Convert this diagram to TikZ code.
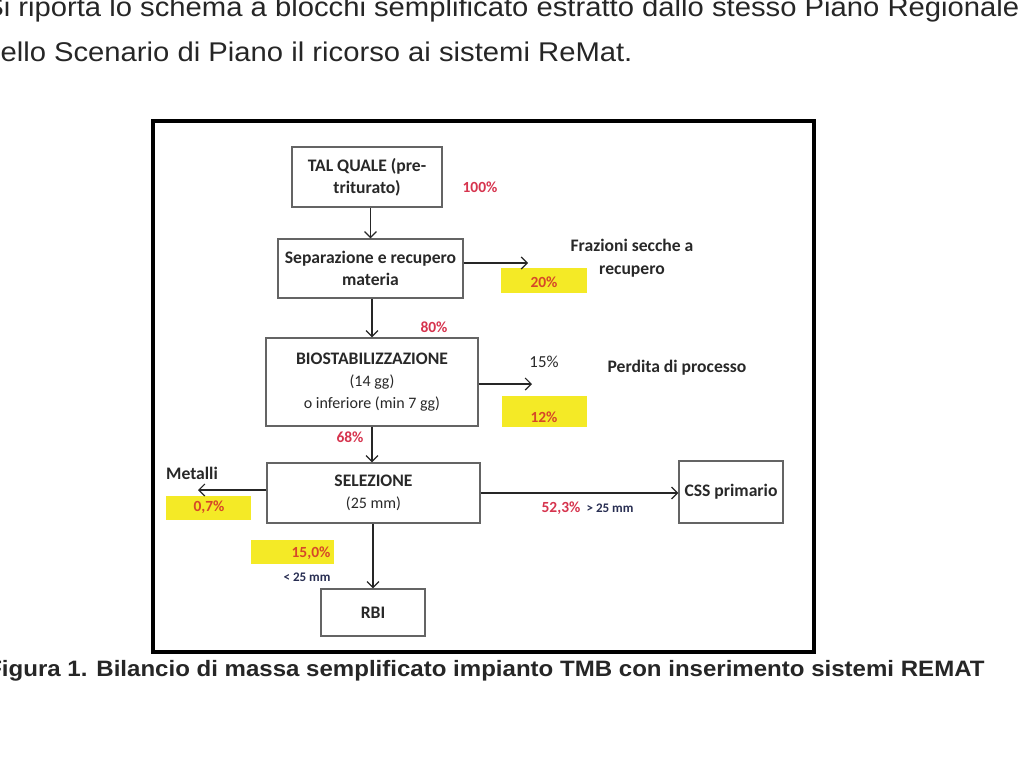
\documentclass[tikz,border=0pt]{standalone}
\usepackage{fontspec}
\setmainfont{Carlito}
\newfontfamily\pagefont[FakeStretch=1.08]{Liberation Sans}
\usetikzlibrary{arrows.meta}
\definecolor{hiyellow}{RGB}{244,234,38}
\definecolor{pctred}{RGB}{214,52,78}
\definecolor{pctorange}{RGB}{214,72,40}
\definecolor{mmnavy}{RGB}{40,46,82}
\definecolor{inkgray}{RGB}{40,40,40}
\definecolor{edgegray}{RGB}{100,100,100}
\newcommand{\subline}[1]{{\mdseries\fontsize{12}{16.5}\selectfont #1}}

\begin{document}
\begin{tikzpicture}[x=0.75pt,y=0.75pt,yscale=-1,xscale=1,
  block/.style={draw=edgegray,line width=0.9pt,align=center,inner sep=0pt,text=inkgray,font=\fontsize{13.2}{16.5}\selectfont\bfseries},
  patch/.style={fill=hiyellow,inner sep=0pt},
  pct/.style={text=pctred,inner sep=0pt,font=\fontsize{11.6}{14}\selectfont\bfseries},
  pctin/.style={text=pctorange,inner sep=0pt,font=\fontsize{11.6}{14}\selectfont\bfseries},
  mm/.style={text=mmnavy,inner sep=0pt,font=\fontsize{9.8}{12}\selectfont\bfseries},
  side/.style={text=inkgray,inner sep=0pt,align=center,font=\fontsize{13.2}{17.2}\selectfont\bfseries},
  flow/.style={draw=black!85,line width=0.9pt,-{Straight Barb[length=4.5pt,width=9pt]}},
  pagetext/.style={text=black!85,inner sep=0pt,anchor=base west}]
\useasboundingbox (0,0) rectangle (1024,768);

% Page Text
\node [pagetext,font=\pagefont\fontsize{20.3}{24}\selectfont] (intro1) at (-16,16) {Si riporta lo schema a blocchi semplificato estratto dallo stesso Piano Regionale};
\node [pagetext,font=\pagefont\fontsize{20.3}{24}\selectfont] (intro2) at (-16,61) {nello Scenario di Piano il ricorso ai sistemi ReMat.};
\node [pagetext,font=\pagefont\fontsize{16.7}{20}\selectfont\bfseries] (caption) at (-13,676) {Figura 1. Bilancio di massa semplificato impianto TMB con inserimento sistemi REMAT};

%Shape: Rectangle (frame)
\draw [line width=2.6pt] (153,121) rectangle (814,652);

%Shape: Yellow patches
\node [patch,minimum width=64.5pt,minimum height=18.75pt] (y20) at (544,280.5) {};
\node [patch,minimum width=63.75pt,minimum height=23.25pt] (y12) at (544.5,411.5) {};
\node [patch,minimum width=63.75pt,minimum height=18pt] (y07) at (208.5,508) {};
\node [patch,minimum width=62.25pt,minimum height=18pt] (y15) at (292.5,552) {};

%Shape: Blocks
\node [block,minimum width=112.5pt,minimum height=45pt] (tal) at (367,177) {TAL QUALE (pre-\\triturato)};
\node [block,minimum width=138.75pt,minimum height=44.25pt] (sep) at (370.5,268.5) {Separazione e recupero\\materia};
\node [block,minimum width=159pt,minimum height=66pt] (bio) at (372,382) {BIOSTABILIZZAZIONE\\\subline{(14 gg)}\\\subline{o inferiore (min 7 gg)}};
\node [block,minimum width=159.75pt,minimum height=45pt] (sel) at (373.5,493) {SELEZIONE\\\subline{(25 mm)}};
\node [block,minimum width=78pt,minimum height=46.5pt] (css) at (731,492) {CSS primario};
\node [block,minimum width=78pt,minimum height=35.25pt] (rbi) at (373,612.5) {RBI};

%Free ends
\coordinate (frazout) at (528,263);
\coordinate (bioout) at (532,384);
\coordinate (metout) at (198,490);

%Straight Lines
\draw [flow] (sep.north |- tal.south) -- (sep.north);
\draw [flow] (bio.north |- sep.south) -- (bio.north);
\draw [flow] (bio.south) -- (bio.south |- sel.north);
\draw [flow] (rbi.north |- sel.south) -- (rbi.north);
\draw [flow] (sep.east |- frazout) -- (frazout);
\draw [flow] (bio.east |- bioout) -- (bioout);
\draw [flow] (sel.west |- metout) -- (metout);
\draw [flow] (sel.east) -- (sel.east -| css.west);

% Text Node
\node [pct] (p100) at (480,187) {100\%};
\node [pct] (p80) at (434,327) {80\%};
\node [pct] (p68) at (350,437) {68\%};
\node [pct] (p523) at (561,508) {52,3\%};
\node [mm] (gt25) at (610,508) {> 25 mm};
\node [mm] (lt25) at (307,577) {< 25 mm};
\node [pctin] (p20) at (544,282) {20\%};
\node [pctin] (p12) at (544,417) {12\%};
\node [pctin] (p07) at (209,507) {0,7\%};
\node [pctin] (p150) at (311,553) {15,0\%};
\node [inner sep=0pt,text=inkgray,font=\fontsize{12.6}{15}\selectfont] (p15) at (544,362) {15\%};
% Text Node
\node [side] (fraz) at (632,258.5) {Frazioni secche a\\recupero};
\node [side] (perdita) at (677,368) {Perdita di processo};
\node [side] (metalli) at (192,473) {Metalli};

\end{tikzpicture}
\end{document}
